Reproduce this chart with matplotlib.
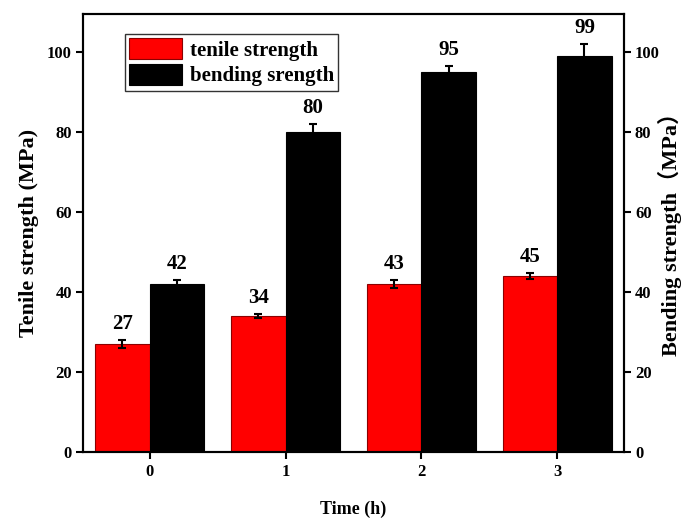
import matplotlib
matplotlib.use("Agg")
import matplotlib.pyplot as plt
import numpy as np

categories = ["0", "1", "2", "3"]
tensile = [27, 34, 42, 44]
tensile_err = [1.0, 0.5, 1.0, 0.8]
tensile_labels = ["27", "34", "43", "45"]
bending = [42, 80, 95, 99]
bending_err = [1.0, 2.0, 1.5, 3.0]
bending_labels = ["42", "80", "95", "99"]

serif = ["Liberation Serif", "DejaVu Serif"]
plt.rcParams["font.family"] = serif
plt.rcParams["font.weight"] = "bold"

fig = plt.figure(figsize=(6.81, 5.2), dpi=100)
ax = fig.add_axes([0.122, 0.131, 0.794, 0.842])
ax2 = ax.twinx()

x = np.arange(len(categories))
w = 0.4
b1 = ax.bar(x - w / 2, tensile, w, color="#ff0000", edgecolor="#8b0000", linewidth=0.8,
            yerr=tensile_err, error_kw=dict(ecolor="black", elinewidth=1.5, capsize=3, capthick=1.5),
            label="tenile strength")
b2 = ax2.bar(x + w / 2, bending, w, color="black", edgecolor="black", linewidth=0.8,
             yerr=bending_err, error_kw=dict(ecolor="black", elinewidth=1.5, capsize=3, capthick=1.5),
             label="bending srength")

for xi, v, e, t in zip(x - w / 2, tensile, tensile_err, tensile_labels):
    ax.text(xi, v + e + 1.5, t, ha="center", va="bottom", fontsize=15, fontweight="bold")
for xi, v, e, t in zip(x + w / 2, bending, bending_err, bending_labels):
    ax2.text(xi, v + e + 1.5, t, ha="center", va="bottom", fontsize=15, fontweight="bold")

for a in (ax, ax2):
    a.set_ylim(0, 109.5)
    a.set_yticks([0, 20, 40, 60, 80, 100])
    a.tick_params(axis="y", direction="out", length=5, width=1.5, labelsize=12, pad=3)
ax.set_xlim(-0.49, 3.49)
ax.set_xticks(x)
ax.set_xticklabels(categories)
ax.tick_params(axis="x", direction="out", length=5, width=1.5, labelsize=12)
for lab in ax.get_xticklabels() + ax.get_yticklabels() + ax2.get_yticklabels():
    lab.set_fontweight("bold")

for a in (ax, ax2):
    for s in a.spines.values():
        s.set_linewidth(1.5)

ax.set_xlabel("Time (h)", fontsize=13, fontweight="bold", labelpad=15)
ax.set_ylabel("Tenile strength (MPa)", fontsize=16, fontweight="bold", labelpad=6)
ax2.set_ylabel("Bending strength（MPa）", fontsize=16, fontweight="bold",
               rotation=90, ha="center", va="center",
               family=["Liberation Serif", "Noto Sans CJK SC"])
ax2.yaxis.set_label_coords(1.086, 0.51)

leg = ax.legend(handles=[b1, b2], loc="upper left", bbox_to_anchor=(0.078, 0.955),
                prop=dict(family=serif, weight="bold", size=15), frameon=True, fancybox=False,
                edgecolor="black", handlelength=2.5, handleheight=1.2, borderpad=0.2,
                labelspacing=0.15, handletextpad=0.4, borderaxespad=0)
leg.get_frame().set_linewidth(1.0)

fig.savefig("out.png", dpi=100)
